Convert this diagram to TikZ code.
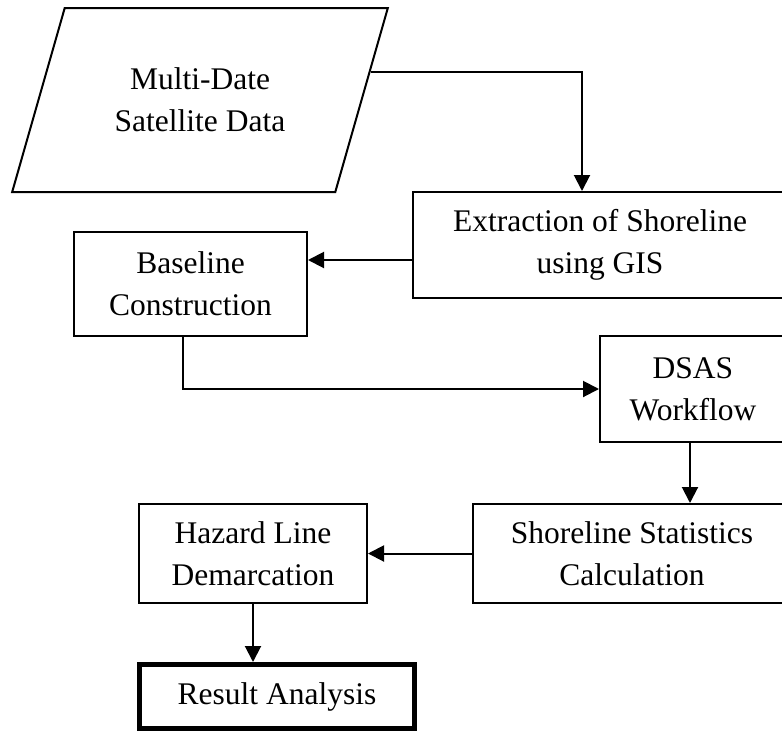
\documentclass[tikz,border=0pt]{standalone}
\usepackage{fontspec}
\setmainfont{Liberation Serif}
\usetikzlibrary{shapes.geometric,arrows.meta,calc}
\tikzset{
  box/.style={draw,line width=1pt,align=center,inner sep=0pt},
  arr/.style={-{Triangle[length=8pt,width=8pt]},line width=1pt},
}
\begin{document}
\begin{tikzpicture}[x=0.5pt,y=-0.5pt,font=\fontsize{15.75}{21}\selectfont]
    \useasboundingbox (0,0) rectangle (782,734);
    % cac khoi
    \node[box,trapezium,trapezium left angle=62.7,trapezium right angle=117.3,
        trapezium stretches=true,minimum width=188pt,minimum height=92pt] (data) at (200,100) {Multi-Date\\Satellite Data};
    \node[box,minimum width=187pt,minimum height=53pt] (extr) at (600,245) {Extraction of Shoreline\\using GIS};
    \node[box,minimum width=116.5pt,minimum height=52pt] (base) at (190.5,284) {Baseline\\Construction};
    \node[box,minimum width=93pt,minimum height=53pt] (dsas) at (693,389) {DSAS\\Workflow};
    \node[box,minimum width=159pt,minimum height=49.5pt] (stats) at (632,553.5) {Shoreline Statistics\\Calculation};
    \node[box,minimum width=114pt,minimum height=49.5pt] (haz) at (253,553.5) {Hazard Line\\Demarcation};
    \node[box,line width=2.5pt,minimum width=137.5pt,minimum height=32pt] (res) at (277,696.5) {Result Analysis};
    % mui ten
    \coordinate (dout) at ($(data.top right corner)!0.348!(data.bottom right corner)$);
    \draw[arr] (dout) -| ([xshift=-9pt]extr.north);
    \draw[arr] ([yshift=-7.5pt]extr.west) -- ([yshift=-7.5pt]extr.west -| base.east);
    \draw[arr] ([xshift=-4pt]base.south) |- (dsas.west);
    \draw[arr] ([xshift=-1.5pt]dsas.south) -- ([xshift=-1.5pt]dsas.south |- stats.north);
    \draw[arr] (stats.west) -- (haz.east);
    \draw[arr] (haz.south) -- (haz.south |- res.north);
\end{tikzpicture}
\end{document}
